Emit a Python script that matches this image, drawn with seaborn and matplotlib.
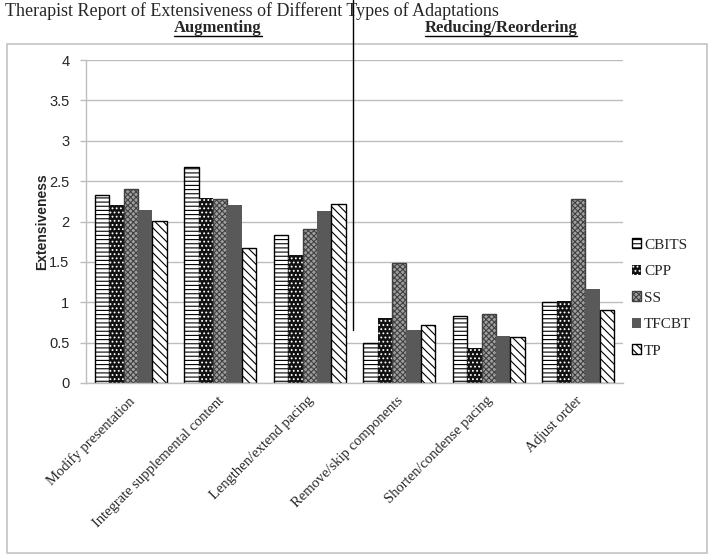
import matplotlib
matplotlib.use("Agg")
import matplotlib.pyplot as plt
import seaborn as sns
import pandas as pd
import numpy as np
from matplotlib.patches import Rectangle, Patch
from matplotlib.lines import Line2D
import matplotlib.transforms as mtransforms

categories = ["Modify presentation", "Integrate supplemental content", "Lengthen/extend pacing",
              "Remove/skip components", "Shorten/condense pacing", "Adjust order"]
series = ["CBITS", "CPP", "SS", "TFCBT", "TP"]
cbits = [2.33, 2.67, 1.83, 0.49, 0.83, 1.00]
cpp = [2.21, 2.29, 1.59, 0.81, 0.43, 1.02]
ss = [2.40, 2.28, 1.91, 1.49, 0.85, 2.28]
tfcbt = [2.14, 2.20, 2.13, 0.66, 0.58, 1.17]
tp = [2.01, 1.67, 2.22, 0.72, 0.57, 0.90]
yticks = [0, 0.5, 1, 1.5, 2, 2.5, 3, 3.5, 4]
ytick_labels = ["0", "0.5", "1", "1.5", "2", "2.5", "3", "3.5", "4"]

values = {"CBITS": cbits, "CPP": cpp, "SS": ss, "TFCBT": tfcbt, "TP": tp}
df = pd.DataFrame([{"cat": c, "series": s, "val": values[s][i]}
                   for s in series for i, c in enumerate(categories)])

sns.set_theme(style="white")
plt.rcParams["hatch.linewidth"] = 0.8

styles = {
    "CBITS": dict(facecolor="white", edgecolor="black", hatch="----", linewidth=1.0),
    "CPP": dict(facecolor="#111111", edgecolor="white", hatch="....", linewidth=0.0),
    "SS": dict(facecolor="#a0a0a0", edgecolor="#404040", hatch="xxxxxx", linewidth=1.0),
    "TFCBT": dict(facecolor="#595959", edgecolor="#595959", hatch=None, linewidth=0.0),
    "TP": dict(facecolor="white", edgecolor="black", hatch="\\\\\\\\", linewidth=1.0),
}

fig = plt.figure(figsize=(7.14, 5.6), dpi=100)
ax = fig.add_axes([86/714, 1-383/560, (623-86)/714, (383-60)/560])

sns.barplot(data=df, x="cat", y="val", hue="series", order=categories, hue_order=series,
            ax=ax, width=0.8, legend=False, errorbar=None)

for cont, s in zip(ax.containers, series):
    for p in cont.patches:
        st = styles[s]
        p.set_facecolor(st["facecolor"])
        p.set_edgecolor(st["edgecolor"])
        p.set_linewidth(st["linewidth"])
        if st["hatch"]:
            p.set_hatch(st["hatch"])

ax.set_ylim(0, 4)
ax.set_yticks(yticks)
ax.set_yticklabels(ytick_labels, fontfamily="Liberation Sans", fontsize=10.5)
ax.yaxis.grid(True, color="#bdbdbd", linewidth=1.0)
ax.set_axisbelow(True)
ax.tick_params(axis="y", which="major", left=True, length=4, width=1, color="#bdbdbd", pad=8)
ax.tick_params(axis="x", bottom=False, pad=2)
for sp in ["top", "right"]:
    ax.spines[sp].set_visible(False)
for sp in ["left", "bottom"]:
    ax.spines[sp].set_color("#bdbdbd")
    ax.spines[sp].set_linewidth(1.0)
ax.set_xlabel("")
ax.set_ylabel("Extensiveness", fontfamily="Liberation Sans", fontweight="bold", fontsize=10, labelpad=0)
ax.set_xticks(range(len(categories)))
ax.set_xticklabels(categories, rotation=45, ha="right", rotation_mode="anchor",
                   fontfamily="Liberation Serif", fontsize=10.5)
offset = mtransforms.ScaledTranslation(-3/100, 0, fig.dpi_scale_trans)
for lab in ax.get_xticklabels():
    lab.set_transform(lab.get_transform() + offset)
ax.set_xlim(-0.5, len(categories) - 0.5)

# legend
handles = []
for s in series:
    st = styles[s]
    handles.append(Patch(facecolor=st["facecolor"], edgecolor=st["edgecolor"],
                         hatch=st["hatch"], linewidth=st["linewidth"], label=s))
leg = fig.legend(handles=handles, loc="center left", bbox_to_anchor=(632/714, 1-298/560),
                 frameon=False, prop={"family": "Liberation Serif", "size": 11},
                 handlelength=0.6, handleheight=0.6, handletextpad=0.2, labelspacing=0.87,
                 borderaxespad=0, borderpad=0)

# outer frame
fig.patches.append(Rectangle((7/714, 1-553/560), 700/714, (553-44)/560, transform=fig.transFigure,
                             fill=False, edgecolor="#c4c4c4", linewidth=1.2, zorder=0))

# title and section headers
fig.text(5/714, 1-11/560, "Therapist Report of Extensiveness of Different Types of Adaptations",
         fontfamily="Liberation Serif", fontsize=13, ha="left", va="center")
hdrs = []
hdrs.append(fig.text(218/714, 1-28/560, "Augmenting", fontfamily="Liberation Serif",
                     fontweight="bold", fontsize=12, ha="center", va="center"))
hdrs.append(fig.text(501/714, 1-28/560, "Reducing/Reordering", fontfamily="Liberation Serif",
                     fontweight="bold", fontsize=12, ha="center", va="center"))
fig.lines.append(Line2D([353/714, 353/714], [1.0, 1-330/560], transform=fig.transFigure,
                        color="black", linewidth=1.0))

fig.canvas.draw()
r = fig.canvas.get_renderer()
for t in hdrs:
    bb = t.get_window_extent(r).transformed(fig.transFigure.inverted())
    y = bb.y0 + 0.5/560
    fig.lines.append(Line2D([bb.x0, bb.x1], [y, y], transform=fig.transFigure, color="black", linewidth=1.0))

fig.savefig("out.png", dpi=100)
